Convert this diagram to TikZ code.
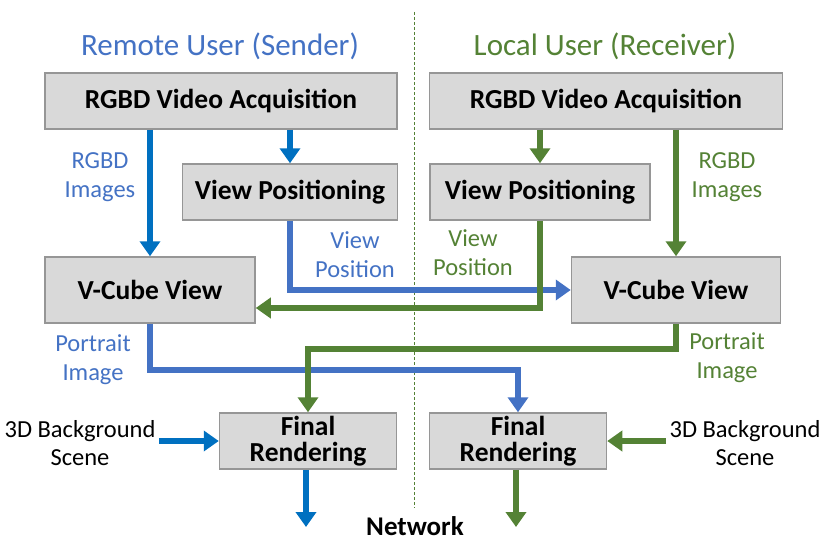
\documentclass[tikz,border=0pt]{standalone}
\usepackage{fontspec}
\setmainfont{Carlito}
\usetikzlibrary{arrows.meta, positioning}
\definecolor{sendblue}{RGB}{0,112,192}
\definecolor{linkblue}{RGB}{68,114,196}
\definecolor{recvgreen}{RGB}{84,130,53}
\definecolor{boxgray}{RGB}{217,217,217}
\definecolor{boxline}{RGB}{150,150,150}

\begin{document}
\begin{tikzpicture}[x=1pt, y=-1pt,
  stage/.style={draw=boxline, line width=1.5pt, fill=boxgray, inner sep=0pt, align=center, font=\fontsize{27.5}{26}\selectfont\bfseries},
  flow/.style={line width=6pt, -{Triangle[width=20pt,length=15pt]}},
  tag/.style={align=center, font=\fontsize{24.5}{29}\selectfont},
  side/.style={font=\fontsize{31}{34}\selectfont}
]
  \useasboundingbox (0,0) rectangle (830,543);

  % titles and divider
  \node[side, text=linkblue] (titleL) at (220,46) {Remote User (Sender)};
  \node[side, text=recvgreen] (titleR) at (605,46) {Local User (Receiver)};
  \coordinate (divtop) at (414,12);
  \coordinate (divbot) at (414,508);
  \draw[recvgreen, line width=0.8pt, dash pattern=on 3pt off 2pt] (divtop) -- (divbot);

  % boxes
  \node[stage, minimum width=352, minimum height=56] (acqL) at (221,101) {RGBD Video Acquisition};
  \node[stage, minimum width=353, minimum height=56] (acqR) at (606,101) {RGBD Video Acquisition};
  \node[stage, minimum width=215, minimum height=56] (posL) at (290,192) {View Positioning};
  \node[stage, minimum width=220, minimum height=56] (posR) at (540,192) {View Positioning};
  \node[stage, minimum width=210, minimum height=66] (cubeL) at (150,290) {V-Cube View};
  \node[stage, minimum width=209, minimum height=66] (cubeR) at (676,290) {V-Cube View};
  \node[stage, minimum width=177, minimum height=56] (finL) at (308,441) {Final\\Rendering};
  \node[stage, minimum width=177, minimum height=56] (finR) at (518,441) {Final\\Rendering};

  % labels
  \node[tag, text=linkblue] (imgL) at (100,177) {RGBD\\Images};
  \node[tag, text=recvgreen] (imgR) at (727,177) {RGBD\\Images};
  \node[tag, text=linkblue] (vpL) at (355,255) {View\\Position};
  \node[tag, text=recvgreen] (vpR) at (473,253) {View\\Position};
  \node[tag, text=linkblue] (prL) at (93,360) {Portrait\\Image};
  \node[tag, text=recvgreen] (prR) at (727,358) {Portrait\\Image};
  \node[tag, font=\fontsize{24.5}{28}\selectfont] (bgL) at (80,443) {3D Background\\Scene};
  \node[tag, font=\fontsize{24.5}{28}\selectfont] (bgR) at (745,443) {3D Background\\Scene};
  \node[font=\fontsize{27}{28}\selectfont\bfseries] (net) at (415,526) {Network};

  % sender side
  \draw[flow, sendblue] (cubeL |- acqL.south) -- (cubeL.north);
  \draw[flow, sendblue] (posL |- acqL.south) -- (posL.north);
  \draw[flow, linkblue] (posL.south) |- (cubeR.west);
  \coordinate (bendL) at (0,370);
  \draw[flow, linkblue] (cubeL.south) |- (finR |- bendL) -- (finR.north);
  \draw[flow, sendblue] (bgL.east |- finL.west) -- (finL.west);
  \coordinate (netL) at (306,527);
  \draw[flow, sendblue] (finL.south -| netL) -- (netL);

  % receiver side
  \draw[flow, recvgreen] (cubeR |- acqR.south) -- (cubeR.north);
  \draw[flow, recvgreen] (posR |- acqR.south) -- (posR.north);
  \draw[flow, recvgreen] (posR.south) |- ([yshift=-18pt]cubeL.east);
  \coordinate (bendR) at (0,349);
  \draw[flow, recvgreen] (cubeR.south) |- (finL |- bendR) -- (finL.north);
  \draw[flow, recvgreen] (bgR.west |- finR.east) -- (finR.east);
  \coordinate (netR) at (516,527);
  \draw[flow, recvgreen] (finR.south -| netR) -- (netR);
\end{tikzpicture}
\end{document}
